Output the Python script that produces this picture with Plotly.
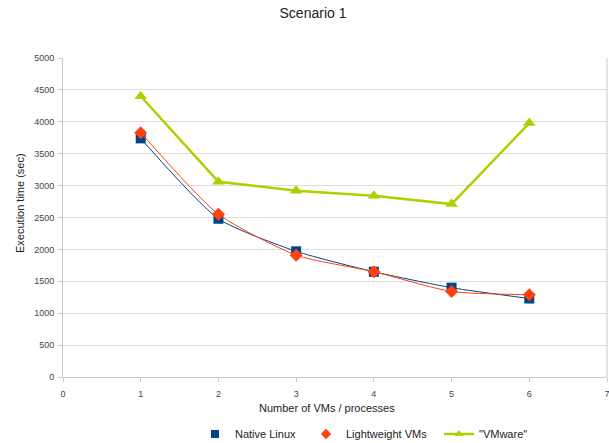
import plotly.graph_objects as go

x_vals = [1, 2, 3, 4, 5, 6]
native_linux = [3740, 2480, 1970, 1650, 1400, 1230]
lightweight_vms = [3830, 2550, 1910, 1650, 1340, 1290]
vmware = [4400, 3060, 2920, 2840, 2710, 3980]
series_names = ["Native Linux", "Lightweight VMs", "\"VMware\""]
y_ticks = [0, 500, 1000, 1500, 2000, 2500, 3000, 3500, 4000, 4500, 5000]
x_ticks = [0, 1, 2, 3, 4, 5, 6, 7]

BLUE = "#004586"
ORANGE = "#ff420e"
GREEN = "#aecf00"
W, H = 609, 443
L, R, T, B = 63, 2, 58, 66
PW, PH = W - L - R, H - T - B


def px_x(px):
    return (px - L) / PW


def px_y(py):
    return (H - B - py) / PH


fig = go.Figure()
fig.add_trace(go.Scatter(x=x_vals, y=native_linux, mode="lines+markers",
                         line=dict(color=BLUE, width=1, shape="spline", smoothing=0.6),
                         marker=dict(symbol="square", size=10, color=BLUE),
                         showlegend=False))
fig.add_trace(go.Scatter(x=x_vals, y=lightweight_vms, mode="lines+markers",
                         line=dict(color=ORANGE, width=1, shape="spline", smoothing=0.6),
                         marker=dict(symbol="diamond", size=10, color=ORANGE),
                         showlegend=False))
fig.add_trace(go.Scatter(x=x_vals, y=vmware, mode="lines+markers",
                         line=dict(color=GREEN, width=2.5),
                         marker=dict(symbol="triangle-up", size=11, color=GREEN),
                         showlegend=False))
# legend entries (each in its own legend for exact placement)
fig.add_trace(go.Scatter(x=[None], y=[None], mode="markers", name=series_names[0],
                         marker=dict(symbol="square", size=8, color=BLUE), legend="legend"))
fig.add_trace(go.Scatter(x=[None], y=[None], mode="markers", name=series_names[1],
                         marker=dict(symbol="diamond", size=8, color=ORANGE), legend="legend2"))
fig.add_trace(go.Scatter(x=[None], y=[None], mode="lines+markers", name=series_names[2],
                         line=dict(color=GREEN, width=2.5),
                         marker=dict(symbol="triangle-up", size=8, color=GREEN), legend="legend3"))


def leg(px):
    return dict(xref="container", yref="container", x=px / W, xanchor="left",
                y=(H - 434) / H, yanchor="middle", orientation="h",
                font=dict(size=11, color="#222222"), itemwidth=30,
                bgcolor="rgba(0,0,0,0)")


fig.update_layout(
    width=W, height=H,
    margin=dict(l=L, r=R, t=T, b=B, autoexpand=False),
    paper_bgcolor="white", plot_bgcolor="white",
    font=dict(family="Liberation Sans, Arial, sans-serif", size=9, color="#444444"),
    title=dict(text="Scenario 1", x=313 / W, xanchor="center", xref="container",
               y=1 - 13 / H, yanchor="middle", yref="container",
               font=dict(size=14, color="#222222")),
    xaxis=dict(range=[0, 7], tickvals=x_ticks, showgrid=False, zeroline=False,
               showline=True, linecolor="#c8c8c8", linewidth=1,
               ticks="outside", ticklen=4, tickcolor="#c8c8c8", automargin=False,
               ticklabelstandoff=4, ticklabeloverflow="allow"),
    yaxis=dict(range=[0, 5000], tickvals=y_ticks, showgrid=True, gridcolor="#dddddd",
               zeroline=False, showline=True, linecolor="#c8c8c8", linewidth=1,
               ticks="outside", ticklen=4, tickcolor="#c8c8c8", automargin=False,
               ticklabelstandoff=2),
    showlegend=True,
    legend=leg(195),
    legend2=leg(306),
    legend3=leg(439),
    annotations=[
        dict(text="Number of VMs / processes", xref="paper", yref="paper",
             x=px_x(327), y=px_y(408), xanchor="center", yanchor="middle",
             showarrow=False, font=dict(size=11, color="#222222")),
        dict(text="Execution time (sec)", xref="paper", yref="paper",
             x=px_x(20), y=px_y(203), xanchor="center", yanchor="middle",
             textangle=-90, showarrow=False, font=dict(size=11, color="#222222")),
    ],
)
fig.add_shape(type="line", xref="paper", yref="paper", x0=1, x1=1, y0=0, y1=1,
              line=dict(color="#c8c8c8", width=1))

fig.write_html("out.html", config={"displayModeBar": False},
               post_script="document.body.style.margin='0';document.body.style.overflow='hidden';")
